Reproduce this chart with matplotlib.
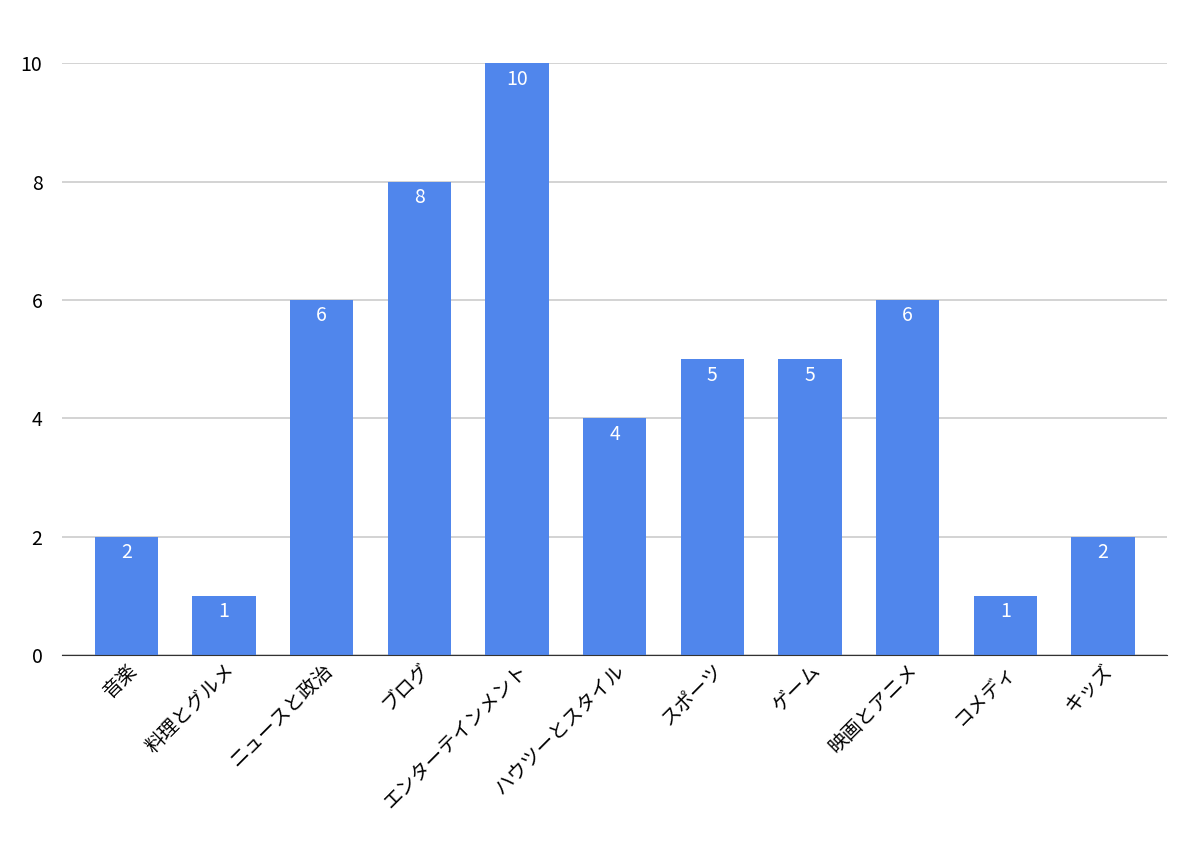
import matplotlib
matplotlib.use("Agg")
import matplotlib.pyplot as plt

plt.rcParams['font.family'] = ['Noto Sans CJK JP', 'DejaVu Sans']

categories = ["音楽", "料理とグルメ", "ニュースと政治", "ブログ", "エンターテインメント",
              "ハウツーとスタイル", "スポーツ", "ゲーム", "映画とアニメ", "コメディ", "キッズ"]
values = [2, 1, 6, 8, 10, 4, 5, 5, 6, 1, 2]

fig = plt.figure(figsize=(11.9, 8.44), dpi=100)
ax = fig.add_axes([0.052, 0.224, 0.929, 0.701])
x = list(range(len(categories)))
bars = ax.bar(x, values, width=0.65, color='#5086EC', zorder=3, clip_on=False)
for xi, v in zip(x, values):
    ax.text(xi, v - 0.27, str(v), ha='center', va='center', color='white', fontsize=14, zorder=4)
ax.set_xlim(-0.66, 10.66)
ax.set_ylim(0, 10)
ax.set_yticks([0, 2, 4, 6, 8, 10])
ax.yaxis.grid(True, color='#cccccc', linewidth=1.2, zorder=0)
for s in ['top', 'right', 'left']:
    ax.spines[s].set_visible(False)
ax.spines['bottom'].set_color('#333333')
ax.spines['bottom'].set_zorder(5)
ax.tick_params(axis='both', length=0, labelsize=14)
ax.tick_params(axis='y', pad=14)
ax.set_xticks(x)
ax.set_xticklabels(categories, rotation=45, ha='right', rotation_mode='anchor', fontsize=14)
fig.savefig("out.png", dpi=100)
